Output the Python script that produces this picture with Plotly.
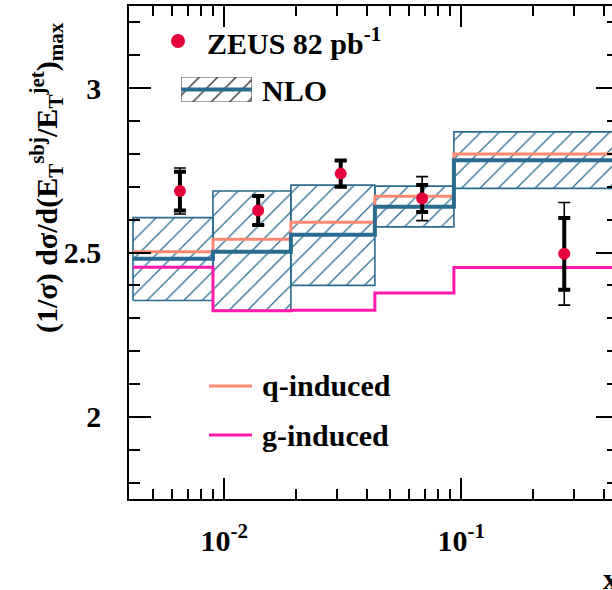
import plotly.graph_objects as go

# ---------------- data ----------------
bin_edges = [0.00412, 0.00896, 0.0191, 0.0432, 0.0931, 0.6]
nlo_up = [2.606, 2.687, 2.705, 2.702, 2.867]
nlo_lo = [2.354, 2.323, 2.400, 2.578, 2.695]
nlo_central = [2.481, 2.502, 2.554, 2.639, 2.781]
q_induced = [2.502, 2.540, 2.592, 2.671, 2.800]
g_induced = [2.455, 2.323, 2.324, 2.377, 2.454]

data_x = [0.0065, 0.0139, 0.0310, 0.0684, 0.272]
data_y = [2.687, 2.628, 2.740, 2.664, 2.496]
data_stat = [0.059, 0.044, 0.040, 0.041, 0.109]
data_tot = [0.070, 0.044, 0.040, 0.067, 0.156]

x_major = [0.01, 0.1]
x_major_text = ["10<sup>-2</sup>", "10<sup>-1</sup>"]
x_minor = [0.004, 0.005, 0.006, 0.007, 0.008, 0.009,
           0.02, 0.03, 0.04, 0.05, 0.06, 0.07, 0.08, 0.09,
           0.2, 0.3, 0.4, 0.5]

# ---------------- style ----------------
BLUE = "#2a6b8f"
RED = "#e5003c"
SALMON = "#ff8870"
PINK = "#ff1aac"
FONT = "Liberation Serif"

W, H = 612, 590
ML, MR, MT, MB = 129, 0, 6, 91
PW, PH = W - ML - MR, H - MT - MB

def px_x(p):
    return (p - ML) / PW

def px_y(p):
    return (H - MB - p) / PH

fig = go.Figure()

# NLO uncertainty boxes (hatched)
for i in range(len(nlo_up)):
    lo_e, hi_e = bin_edges[i], bin_edges[i + 1]
    fig.add_trace(go.Scatter(
        x=[lo_e, hi_e, hi_e, lo_e, lo_e],
        y=[nlo_lo[i], nlo_lo[i], nlo_up[i], nlo_up[i], nlo_lo[i]],
        mode="lines", fill="toself",
        fillcolor="rgba(0,0,0,0)",
        fillpattern=dict(shape="/", size=13, solidity=0.1,
                         fgcolor=BLUE, bgcolor="rgba(0,0,0,0)", fillmode="replace"),
        line=dict(color=BLUE, width=1.6),
        hoverinfo="skip", showlegend=False))

def steps(vals):
    return list(bin_edges), list(vals) + [vals[-1]]

for vals, col, wid in [(q_induced, SALMON, 3), (g_induced, PINK, 3), (nlo_central, BLUE, 4)]:
    sx, sy = steps(vals)
    fig.add_trace(go.Scatter(x=sx, y=sy, mode="lines", line=dict(color=col, width=wid, shape="hv"),
                             hoverinfo="skip", showlegend=False))

# data: total (thin) and stat (thick) error bars
fig.add_trace(go.Scatter(x=data_x, y=data_y, mode="markers", marker=dict(size=1, color="black", opacity=0),
                         error_y=dict(type="data", array=data_tot, color="black", thickness=1.6, width=6),
                         showlegend=False, hoverinfo="skip"))
fig.add_trace(go.Scatter(x=data_x, y=data_y, mode="markers", marker=dict(size=12, color=RED),
                         error_y=dict(type="data", array=data_stat, color="black", thickness=4, width=6),
                         showlegend=False, hoverinfo="skip"))

# dummy trace for right tick axis
fig.add_trace(go.Scatter(x=[], y=[], yaxis="y3", showlegend=False, hoverinfo="skip"))

# legend swatch for NLO (aux axes)
fig.add_trace(go.Scatter(x=[0, 1, 1, 0, 0], y=[0, 0, 1, 1, 0], xaxis="x2", yaxis="y2",
                         mode="lines", fill="toself", fillcolor="rgba(0,0,0,0)",
                         fillpattern=dict(shape="/", size=13, solidity=0.1, fgcolor="#222222",
                                          bgcolor="rgba(0,0,0,0)", fillmode="replace"),
                         line=dict(color="#555555", width=1.2), showlegend=False, hoverinfo="skip"))
fig.add_trace(go.Scatter(x=[0, 1], y=[0.5, 0.5], xaxis="x2", yaxis="y2", mode="lines",
                         line=dict(color=BLUE, width=4), showlegend=False, hoverinfo="skip"))

tickfont = dict(family=FONT, size=30, color="black", weight="bold")

fig.update_layout(
    width=W, height=H,
    margin=dict(l=ML, r=MR, t=MT, b=MB, pad=0),
    paper_bgcolor="white", plot_bgcolor="white",
    showlegend=False,
    xaxis=dict(type="log", range=[-2.402, -0.364], showgrid=False, zeroline=False,
               showline=True, linecolor="black", linewidth=1.6, mirror="ticks",
               ticks="inside", ticklen=21, tickwidth=1.6, tickcolor="black",
               tickmode="array", tickvals=x_major, ticktext=x_major_text,
               tickfont=tickfont, ticklabelstandoff=14,
               minor=dict(tickmode="array", tickvals=x_minor, ticks="inside",
                          ticklen=10, tickwidth=1.6, tickcolor="black", showgrid=False)),
    yaxis=dict(range=[1.75, 3.25], showgrid=False, zeroline=False,
               showline=True, linecolor="black", linewidth=1.6,
               ticks="inside", ticklen=22, tickwidth=1.6, tickcolor="black",
               tickmode="linear", tick0=2, dtick=0.5, tickfont=tickfont,
               ticklabelstandoff=20,
               minor=dict(ticks="inside", ticklen=11, tickwidth=1.6, tickcolor="black",
                          dtick=0.1, tick0=2, showgrid=False)),
    yaxis3=dict(range=[1.75, 3.25], overlaying="y", side="right", anchor="x",
                showgrid=False, zeroline=False, showline=False, showticklabels=False,
                ticks="inside", ticklen=16, tickwidth=1.6, tickcolor="black",
                tickmode="linear", tick0=2, dtick=0.5,
                minor=dict(ticks="inside", ticklen=5, tickwidth=1.6, tickcolor="black",
                           dtick=0.1, tick0=2, showgrid=False)),
    xaxis2=dict(domain=[px_x(181), px_x(252)], range=[0, 1], anchor="y2", visible=False),
    yaxis2=dict(domain=[px_y(102), px_y(77)], range=[0, 1], anchor="x2", visible=False),
)

ann_font = dict(family=FONT, size=30, color="black", weight="bold")
# legend: ZEUS marker
fig.add_shape(type="circle", xref="paper", yref="paper",
              x0=px_x(171), x1=px_x(185), y0=px_y(48), y1=px_y(34),
              fillcolor=RED, line=dict(width=0))
fig.add_annotation(x=px_x(205), y=px_y(41), xref="paper", yref="paper", xanchor="left", yanchor="middle",
                   text="ZEUS 82 pb<sup>-1</sup>", showarrow=False, font=ann_font)
fig.add_annotation(x=px_x(260), y=px_y(90), xref="paper", yref="paper", xanchor="left", yanchor="middle",
                   text="NLO", showarrow=False, font=ann_font)
# q / g legend
for ypix, col, txt in [(386, SALMON, "q-induced"), (435, PINK, "g-induced")]:
    fig.add_shape(type="line", xref="paper", yref="paper", x0=px_x(209), x1=px_x(252),
                  y0=px_y(ypix), y1=px_y(ypix), line=dict(color=col, width=3))
    fig.add_annotation(x=px_x(260), y=px_y(ypix), xref="paper", yref="paper", xanchor="left",
                       yanchor="middle", text=txt, showarrow=False, font=ann_font)

# y title
fig.add_annotation(x=px_x(46), y=px_y(178), xref="paper", yref="paper", xanchor="center", yanchor="middle",
                   textangle=-90, showarrow=False,
                   text="(1/σ) dσ/d(E<sub>T</sub><sup>sbj</sup>/E<sub>T</sub><sup>jet</sup>)<sub>max</sub>",
                   font=dict(family=FONT, size=30, color="black", weight="bold"))
# x title (cut at the right edge, as in the reference)
fig.add_annotation(x=px_x(601), y=px_y(578), xref="paper", yref="paper", xanchor="left", yanchor="middle",
                   showarrow=False, text="x", font=dict(family=FONT, size=30, color="black", weight="bold"))

fig.write_html("out.html")
